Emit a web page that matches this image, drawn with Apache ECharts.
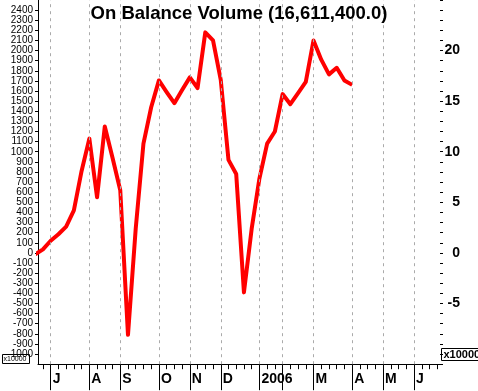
<!DOCTYPE html>
<html>
<head>
<meta charset="utf-8">
<script src="https://cdn.jsdelivr.net/npm/echarts@6/dist/echarts.min.js"></script>
<style>
html,body{margin:0;padding:0;background:#fff;}
#c{width:478px;height:391px;}
</style>
</head>
<body>
<div id="c"></div>
<script>
// Week index (0 = first week of July), OBV in millions of shares
const weeks = [-2,-1,0,1,2,3,4,5,6,7,8,9,10,11,12,13,14,15,16,17,18,19,20,21,22,23,24,25,26,27,28,29,30,31,32,33,34,35,36,37,38,39];
const obv = [-0.15,0.35,1.2,1.85,2.6,4.2,8.1,11.3,5.5,12.5,9.4,6.2,-8.1,2.4,10.8,14.4,17.05,15.9,14.8,16.1,17.35,16.3,21.8,21.0,17.1,9.2,7.8,-3.9,2.4,7.35,10.8,12.0,15.7,14.7,15.8,16.9,21.0,19.1,17.65,18.3,17.05,16.61];

// Month separators (week index) and their labels (Feb label hidden in the original)
const monthWeeks = [0,5,9,14,18,22,27,30,34,39,43,47];
const monthLabels = ['J','A','S','O','N','D','2006','','M','A','M','J'];
const weekTicks = [-1,0,1,2,3,4,5,6,7,8,9,10,11,12,13,14,15,16,17,18,19,20,21,22,23,24,25,26,27,28,29,30,31,32,33,34,35,36,37,38,39,40,41,42,43,44,45,46,47,48,49,50];

const rightLabels = [-5,0,5,10,15,20];
const title = 'On Balance Volume (16,611,400.0)';

const X_MIN = -1.64, X_MAX = 50.36;
const Y_MIN = -11, Y_MAX = 25;

const chart = echarts.init(document.getElementById('c'), null, {renderer:'canvas'});
chart.setOption({
  animation:false,
  backgroundColor:'#fff',
  title:{
    text:title, left:'center', top:4, padding:0,
    textStyle:{fontFamily:'Liberation Sans', fontWeight:'bold', fontSize:18.5, color:'#000'}
  },
  grid:{left:38, right:38, top:-3, bottom:26.8, containLabel:false},
  xAxis:[{
    type:'value', min:X_MIN, max:X_MAX,
    axisLine:{show:true, onZero:false, lineStyle:{color:'#000', width:1}},
    axisTick:{show:true, customValues:weekTicks, length:5, lineStyle:{color:'#000'}},
    axisLabel:{
      show:true, customValues:monthWeeks, align:'left', margin:8,
      padding:[0,0,0,2],
      fontFamily:'Liberation Sans', fontWeight:'bold', fontSize:14, color:'#000',
      formatter:function(v){ const i = monthWeeks.indexOf(v); return i>=0 ? monthLabels[i] : ''; }
    },
    splitLine:{show:false}
  },{
    type:'value', min:X_MIN, max:X_MAX, position:'bottom',
    axisLine:{show:false, onZero:false},
    axisTick:{show:true, customValues:monthWeeks, length:26, lineStyle:{color:'#000'}},
    axisLabel:{show:false},
    splitLine:{show:false}
  }],
  yAxis:[{
    type:'value', min:Y_MIN, max:Y_MAX, interval:1, position:'left',
    axisLine:{show:true, onZero:false, lineStyle:{color:'#000'}},
    axisTick:{show:true, length:3, lineStyle:{color:'#000'}},
    axisLabel:{
      fontFamily:'Liberation Sans', fontSize:10, color:'#000', margin:5,
      showMinLabel:false, showMaxLabel:false,
      formatter:function(v){ return String(Math.round(v*100)); }
    },
    splitLine:{show:false}
  },{
    type:'value', min:Y_MIN, max:Y_MAX, interval:1, position:'right',
    axisLine:{show:false, onZero:false},
    axisTick:{show:true, length:3, lineStyle:{color:'#000'}},
    axisLabel:{
      fontFamily:'Liberation Sans', fontWeight:'bold', fontSize:14, color:'#000',
      align:'right', margin:20,
      formatter:function(v){ return rightLabels.indexOf(Math.round(v))>=0 && Math.abs(v-Math.round(v))<1e-6 ? String(Math.round(v)) : ''; }
    },
    splitLine:{show:false}
  }],
  series:[{
    type:'line', xAxisIndex:0, yAxisIndex:0, data:[], z:1, silent:true,
    markLine:{
      silent:true, symbol:['none','none'], animation:false,
      label:{show:false},
      lineStyle:{color:'#aaaaaa', width:1, type:[3,4]},
      data: monthWeeks.map(function(w){ return {xAxis:w}; })
    }
  },{
    type:'line', xAxisIndex:0, yAxisIndex:0, z:3,
    data: weeks.map(function(w,i){ return [w, obv[i]]; }),
    showSymbol:false, symbol:'none', clip:true,
    lineStyle:{color:'#ff0000', width:4, join:'round'}
  }],
  graphic:[{
    type:'group', left:441, top:348, z:10,
    children:[
      {type:'rect', shape:{x:0,y:0,width:40,height:12}, style:{fill:'#fff', stroke:'#000', lineWidth:1}},
      {type:'text', x:2, y:1, style:{text:'x1000000', font:'bold 11px "Liberation Sans"', fill:'#000'}}
    ]
  },{
    type:'group', left:2, top:354, z:10,
    children:[
      {type:'rect', shape:{x:0,y:0,width:27,height:9}, style:{fill:'#fff', stroke:'#000', lineWidth:1}},
      {type:'text', x:1, y:1, style:{text:'x10000', font:'7px "Liberation Sans"', fill:'#000'}}
    ]
  }]
});
</script>
</body>
</html>
